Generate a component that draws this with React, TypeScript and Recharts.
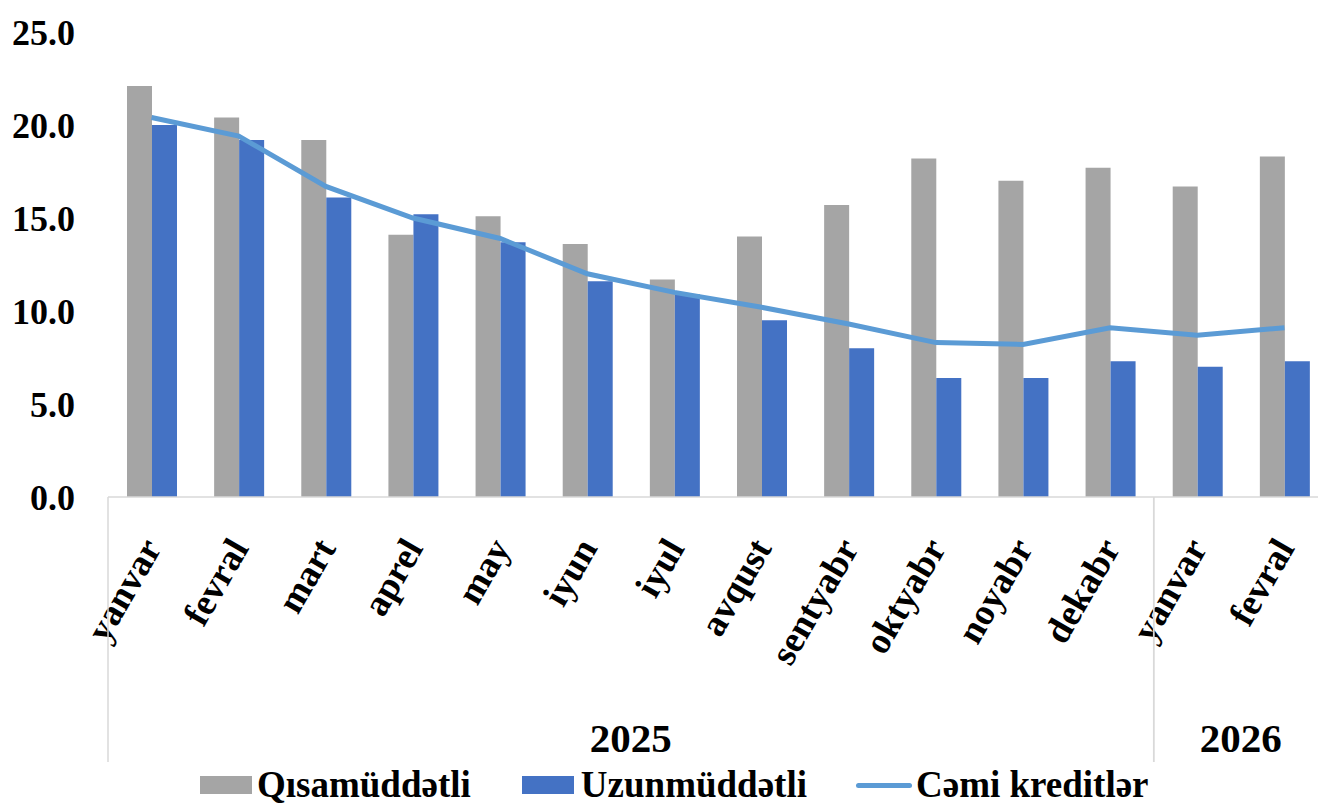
import React from "react";
import { ComposedChart, Bar, Line, XAxis, YAxis, Legend } from "recharts";

const months = ["yanvar", "fevral", "mart", "aprel", "may", "iyun", "iyul", "avqust", "sentyabr", "oktyabr", "noyabr", "dekabr", "yanvar", "fevral"];
const years = ["2025", "2025", "2025", "2025", "2025", "2025", "2025", "2025", "2025", "2025", "2025", "2025", "2026", "2026"];
const shortTerm = [22.1, 20.4, 19.2, 14.1, 15.1, 13.6, 11.7, 14.0, 15.7, 18.2, 17.0, 17.7, 16.7, 18.3];
const longTerm = [20.0, 19.2, 16.1, 15.2, 13.7, 11.6, 10.9, 9.5, 8.0, 6.4, 6.4, 7.3, 7.0, 7.3];
const total = [20.4, 19.4, 16.7, 15.0, 13.9, 12.0, 11.0, 10.2, 9.3, 8.3, 8.2, 9.1, 8.7, 9.1];
const yTicks = [0, 5, 10, 15, 20, 25];

const seriesNames = { short: "Qısamüddətli", long: "Uzunmüddətli", total: "Cəmi kreditlər" };
const colors = { short: "#A5A5A5", long: "#4472C4", total: "#5B9BD5" };

const data = months.map((m, i) => ({
  month: m,
  year: years[i],
  short: shortTerm[i],
  long: longTerm[i],
  total: total[i],
}));

const FONT = "'Liberation Serif', 'DejaVu Serif', 'Times New Roman', serif";
const CHART_W = 1330;
const CHART_H = 805;
const MARGIN = { top: 32, right: 2, left: 0, bottom: 0 };
const Y_W = 108;
const MONTH_H = 200;
const YEAR_H = 68;
const LEGEND_H = 40;
const BAND = (CHART_W - MARGIN.left - MARGIN.right - Y_W) / months.length;

const MonthTick = (props: any) => {
  const { x, y, payload } = props;
  return (
    <text
      transform={`translate(${x + 11},${y + 51}) rotate(-60)`}
      textAnchor="end"
      fontFamily={FONT}
      fontWeight="bold"
      fontSize={37}
      fill="#000"
    >
      {payload.value}
    </text>
  );
};

const YearTick = (props: any) => {
  const { x, y, index } = props;
  const yr = years[index];
  const first = index === 0 || years[index - 1] !== yr;
  if (!first) return <g />;
  const len = years.filter((v) => v === yr).length;
  const left = x - BAND / 2;
  const right = left + len * BAND;
  const cx = (left + right) / 2;
  return (
    <g>
      <line x1={left} x2={left} y1={y - MONTH_H} y2={y + 65} stroke="#D9D9D9" strokeWidth={1.5} />
      <line x1={right} x2={right} y1={y - MONTH_H} y2={y + 65} stroke="#D9D9D9" strokeWidth={1.5} />
      <text x={cx} y={y + 55} textAnchor="middle" fontFamily={FONT} fontWeight="bold" fontSize={41} fill="#000">
        {yr}
      </text>
    </g>
  );
};

const LegendContent = () => {
  const txt: React.CSSProperties = {
    fontFamily: FONT,
    fontWeight: "bold",
    fontSize: 37,
    color: "#000",
    lineHeight: "40px",
    whiteSpace: "nowrap",
  };
  return (
    <div style={{ height: LEGEND_H, display: "flex", alignItems: "center", paddingLeft: 200, boxSizing: "border-box" }}>
      <div style={{ width: 52, height: 18, background: colors.short }} />
      <span style={{ ...txt, marginLeft: 5 }}>{seriesNames.short}</span>
      <div style={{ width: 52, height: 18, background: colors.long, marginLeft: 51 }} />
      <span style={{ ...txt, marginLeft: 7 }}>{seriesNames.long}</span>
      <div style={{ width: 56, height: 5, borderRadius: 3, background: colors.total, marginLeft: 49 }} />
      <span style={{ ...txt, marginLeft: 4 }}>{seriesNames.total}</span>
    </div>
  );
};

export default function App() {
  return (
    <div style={{ width: 1318, height: CHART_H, overflow: "hidden", background: "#fff" }}>
      <style>{"body{margin:0;overflow:hidden;background:#fff}"}</style>
      <ComposedChart width={CHART_W} height={CHART_H} data={data} margin={MARGIN} barGap={0}>
        <YAxis
          width={Y_W}
          domain={[0, 25]}
          ticks={yTicks}
          axisLine={false}
          tickLine={false}
          tickSize={0}
          tickMargin={33}
          tickFormatter={(v: number) => v.toFixed(1)}
          tick={{ fontSize: 36, fontWeight: "bold", fontFamily: FONT, fill: "#000" }}
        />
        <XAxis
          dataKey="month"
          xAxisId={0}
          height={MONTH_H}
          interval={0}
          tickLine={false}
          tickSize={0}
          tickMargin={0}
          axisLine={{ stroke: "#D9D9D9", strokeWidth: 1.5 }}
          tick={<MonthTick />}
        />
        <XAxis
          dataKey="year"
          xAxisId="yr"
          height={YEAR_H}
          interval={0}
          tickLine={false}
          tickSize={0}
          tickMargin={0}
          axisLine={false}
          tick={<YearTick />}
        />
        <Legend verticalAlign="bottom" height={LEGEND_H} content={<LegendContent />} />
        <Bar dataKey="short" name={seriesNames.short} fill={colors.short} barSize={25} isAnimationActive={false} xAxisId={0} />
        <Bar dataKey="long" name={seriesNames.long} fill={colors.long} barSize={25} isAnimationActive={false} xAxisId={0} />
        <Line
          dataKey="total"
          name={seriesNames.total}
          type="linear"
          stroke={colors.total}
          strokeWidth={5}
          dot={false}
          activeDot={false}
          isAnimationActive={false}
          xAxisId={0}
        />
      </ComposedChart>
    </div>
  );
}
